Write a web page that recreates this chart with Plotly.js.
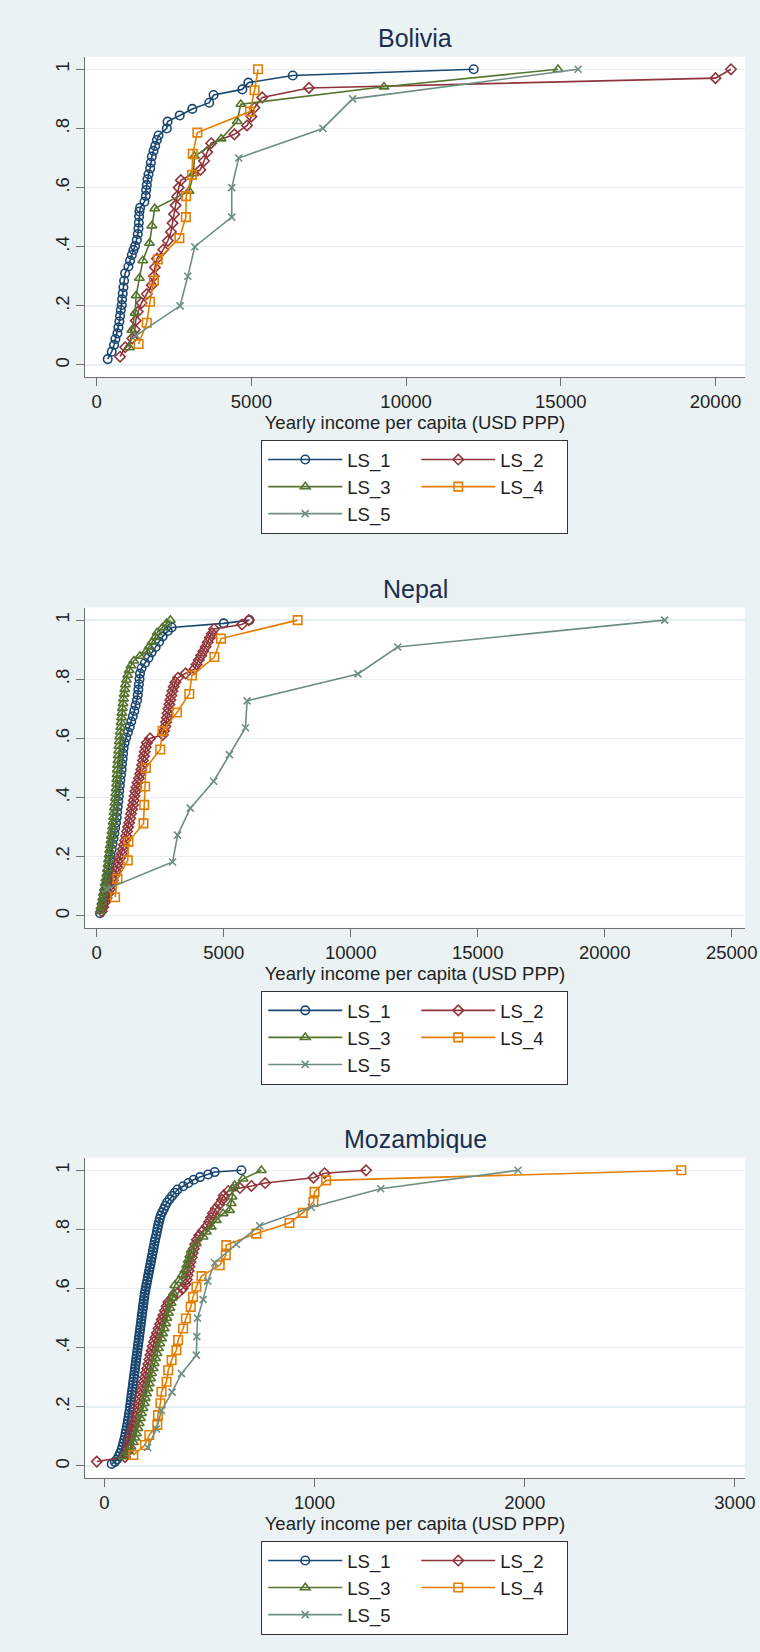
<!DOCTYPE html>
<html><head><meta charset="utf-8">
<script src="https://cdn.plot.ly/plotly-3.0.1.min.js"></script>
<style>html,body{margin:0;padding:0;background:#eaf2f3;}#chart{width:760px;height:1652px;}</style>
</head><body><div id="chart"></div>
<script>
// ---------------- DATA ----------------
const seriesNames = ['LS_1','LS_2','LS_3','LS_4','LS_5'];
const countries = ['Bolivia','Nepal','Mozambique'];
const xAxisTitle = 'Yearly income per capita (USD PPP)';
const yTickVals = [0, 0.2, 0.4, 0.6, 0.8, 1];
const yTickText = ['0', '.2', '.4', '.6', '.8', '1'];
const bolXTicks = [0, 5000, 10000, 15000, 20000];
const nepXTicks = [0, 5000, 10000, 15000, 20000, 25000];
const mozXTicks = [0, 1000, 2000, 3000];

// Bolivia
const bol_ls1_x = [356,486,562,605,670,702,734,756,778,810,821,842,864,886,918,1026,1080,1134,1188,1242,1296,1328,1350,1361,1372,1382,1404,1544,1588,1598,1620,1642,1674,1728,1750,1782,1836,1890,1944,1998,2266,2291,2684,3090,3637,3779,4708,4901,6336,12185];
const bol_ls1_y = [.02,.045,.068,.088,.107,.127,.147,.166,.186,.203,.222,.242,.263,.285,.31,.333,.353,.372,.389,.402,.423,.443,.462,.481,.502,.519,.532,.552,.572,.592,.609,.628,.645,.665,.684,.705,.724,.741,.761,.776,.80,.823,.844,.866,.887,.913,.932,.955,.979,1.0];
const bol_ls2_x = [756,920,1150,1230,1260,1330,1450,1620,1780,1850,1880,1950,2150,2300,2400,2450,2500,2550,2600,2650,2720,3350,3470,3570,3700,4450,4860,5000,5100,5350,6860,20000,20500];
const bol_ls2_y = [.028,.06,.09,.12,.15,.18,.21,.24,.27,.30,.33,.36,.39,.42,.45,.48,.51,.54,.57,.60,.625,.66,.69,.72,.75,.78,.81,.84,.87,.905,.937,.97,1.0];
const bol_ls3_x = [1058,1134,1242,1274,1382,1490,1706,1782,1875,2985,3130,3160,4023,4540,4658,9286,14910];
const bol_ls3_y = [.059,.118,.176,.235,.294,.353,.412,.471,.529,.588,.647,.706,.765,.824,.882,.941,1.0];
const bol_ls4_x = [1355,1618,1722,1850,1976,2673,2882,2892,3078,3105,3254,4950,5103,5215];
const bol_ls4_y = [.071,.143,.214,.286,.357,.429,.5,.571,.643,.714,.786,.857,.929,1.0];
const bol_ls5_x = [1280,2695,2945,3170,4365,4365,4590,7310,8270,15560];
const bol_ls5_y = [.1,.2,.3,.4,.5,.6,.7,.8,.9,1.0];

// Nepal
const nep_ls1_x = [132,200,250,290,330,375,405,440,460,490,520,545,592,620,660,697,725,760,785,805,825,850,870,885,910,930,955,980,995,1020,1040,1060,1100,1160,1230,1300,1360,1420,1480,1530,1585,1615,1640,1660,1685,1705,1765,1900,2040,2160,2320,2460,2600,2800,2950,5000,6010];
const nep_ls1_y = [.009,.027,.045,.063,.081,.099,.117,.135,.153,.171,.189,.207,.225,.243,.261,.279,.297,.315,.333,.351,.369,.387,.405,.423,.441,.459,.477,.495,.513,.531,.549,.567,.585,.603,.621,.639,.657,.675,.693,.711,.729,.747,.765,.783,.801,.819,.837,.855,.873,.891,.909,.927,.945,.963,.975,.989,1.0];
const nep_ls2_x = [197,260,320,390,455,520,570,630,690,750,800,860,920,985,1030,1075,1120,1160,1195,1235,1280,1320,1350,1390,1430,1460,1490,1525,1565,1605,1660,1710,1755,1790,1820,1860,1890,1930,1975,2100,2600,2650,2700,2730,2760,2790,2820,2860,2900,2940,2980,3030,3100,3200,3500,3850,3930,4020,4110,4200,4290,4370,4450,4540,4620,5720,5990];
const nep_ls2_y = [.015,.03,.045,.06,.075,.09,.105,.12,.135,.15,.165,.18,.195,.21,.225,.24,.255,.27,.285,.3,.315,.33,.345,.36,.375,.39,.405,.42,.435,.45,.465,.48,.495,.51,.525,.54,.555,.57,.585,.6,.612,.625,.64,.655,.67,.685,.7,.715,.73,.745,.76,.775,.79,.805,.82,.835,.85,.865,.88,.895,.91,.925,.94,.955,.97,.985,1.0];
const nep_ls3_x = [132,165,200,230,263,296,329,360,395,420,440,461,490,510,530,560,580,600,625,645,665,680,697,715,735,750,765,780,790,800,810,820,835,850,862,875,890,905,925,945,960,975,990,1010,1035,1055,1080,1105,1130,1170,1220,1280,1350,1460,1700,1950,2060,2180,2300,2380,2580,2750,2900];
const nep_ls3_y = [.015,.03,.046,.061,.077,.093,.11,.126,.142,.158,.174,.19,.206,.222,.238,.254,.27,.286,.302,.318,.334,.35,.366,.382,.398,.414,.43,.446,.462,.478,.494,.51,.526,.542,.558,.574,.59,.606,.622,.638,.654,.67,.686,.702,.718,.734,.75,.766,.782,.798,.814,.83,.846,.862,.878,.894,.91,.926,.942,.958,.974,.989,1.0];
const nep_ls4_x = [724,816,1224,1250,1842,1869,1908,1935,2500,2593,3158,3645,3750,4632,4895,7911];
const nep_ls4_y = [.0625,.125,.1875,.25,.3125,.375,.4375,.5,.5625,.625,.6875,.75,.8125,.875,.9375,1.0];
const nep_ls5_x = [395,2987,3185,3685,4606,5225,5856,5922,10284,11849,22362];
const nep_ls5_y = [.091,.182,.273,.364,.455,.545,.636,.727,.818,.909,1.0];

// Mozambique
const moz_ls1_x = [35,50,60,68,75,82,86,90,94,98,101,104,107,110,112,115,117,120,122,124,126,128,130,132,134,136,138,140,142,144,146,148,150,152,154,156,158,160,162,164,166,168,170,172,174,176,178,180,182,184,186,188,190,192,195,198,201,204,207,210,213,216,219,222,225,228,231,234,237,240,243,247,250,253,256,260,264,268,275,283,290,298,310,322,335,348,375,400,425,455,494,525,652];
const moz_ls1_y = [.007,.014,.022,.033,.044,.055,.066,.077,.088,.099,.11,.121,.132,.143,.154,.165,.176,.187,.198,.209,.22,.231,.242,.253,.264,.275,.286,.297,.308,.319,.33,.341,.352,.363,.374,.385,.396,.407,.418,.429,.44,.451,.462,.473,.484,.495,.506,.517,.528,.539,.55,.561,.572,.583,.594,.605,.616,.627,.638,.649,.66,.671,.682,.693,.704,.715,.726,.737,.748,.759,.77,.781,.792,.803,.814,.825,.836,.847,.858,.869,.88,.891,.902,.913,.924,.935,.946,.957,.968,.977,.986,.994,1.0];
const moz_ls2_x = [-36,98,106,112,117,122,127,132,138,144,149,154,159,163,167,172,177,182,187,193,198,204,209,214,219,225,230,236,243,250,258,265,273,281,288,296,305,325,350,372,386,392,396,401,405,410,416,420,426,432,440,452,468,487,498,508,517,530,548,560,568,590,645,700,765,995,1048,1245];
const moz_ls2_y = [.015,.03,.045,.06,.075,.09,.105,.12,.135,.15,.165,.18,.195,.21,.225,.24,.255,.27,.285,.3,.315,.33,.345,.36,.375,.39,.405,.42,.435,.45,.465,.48,.495,.51,.525,.54,.555,.57,.585,.6,.615,.63,.645,.66,.675,.69,.705,.72,.735,.75,.765,.78,.795,.81,.825,.84,.855,.87,.885,.9,.915,.93,.94,.947,.957,.975,.99,1.0];
const moz_ls3_x = [90,115,127,138,146,153,160,166,172,177,184,190,195,201,208,214,220,225,232,237,244,251,258,264,272,278,285,292,298,305,312,318,323,328,335,355,370,383,392,399,406,414,438,470,486,509,533,565,596,604,608,612,620,660,747];
const moz_ls3_y = [.032,.05,.065,.08,.095,.11,.127,.144,.161,.178,.195,.212,.229,.245,.262,.279,.296,.313,.33,.347,.364,.381,.398,.414,.431,.448,.465,.482,.5,.517,.534,.551,.568,.585,.611,.628,.645,.662,.679,.696,.713,.73,.752,.775,.792,.809,.831,.854,.865,.888,.91,.938,.949,.971,1.0];
const moz_ls4_x = [138,193,214,252,255,267,272,296,304,320,343,351,375,388,411,422,438,462,549,578,580,723,881,944,995,1000,1055,2745];
const moz_ls4_y = [.037,.071,.105,.139,.172,.212,.251,.285,.324,.358,.392,.426,.465,.499,.538,.572,.606,.642,.679,.713,.747,.786,.822,.856,.893,.927,.966,1.0];
const moz_ls5_x = [206,248,272,322,367,438,440,443,470,492,525,628,739,984,1315,1968];
const moz_ls5_y = [.0625,.125,.1875,.25,.3125,.375,.4375,.5,.5625,.625,.6875,.75,.8125,.875,.9375,1.0];

// ---------------- STYLE ----------------
const FONT = 'Liberation Sans, Arial, Helvetica, sans-serif';
const W = 760, H = 1652;
const colors = ['#1a476f', '#90353b', '#55752f', '#e37e00', '#6e8e84'];
const symbols = ['circle-open', 'diamond-open', 'triangle-up-open', 'square-open', 'x-thin-open'];
const msizes = [8.5, 8, 8.5, 8.5, 7];
const groupsOf = ['a', 'b', 'a', 'b', 'a'];

const panelData = [
  [[bol_ls1_x,bol_ls1_y],[bol_ls2_x,bol_ls2_y],[bol_ls3_x,bol_ls3_y],[bol_ls4_x,bol_ls4_y],[bol_ls5_x,bol_ls5_y]],
  [[nep_ls1_x,nep_ls1_y],[nep_ls2_x,nep_ls2_y],[nep_ls3_x,nep_ls3_y],[nep_ls4_x,nep_ls4_y],[nep_ls5_x,nep_ls5_y]],
  [[moz_ls1_x,moz_ls1_y],[moz_ls2_x,moz_ls2_y],[moz_ls3_x,moz_ls3_y],[moz_ls4_x,moz_ls4_y],[moz_ls5_x,moz_ls5_y]]
];
const xTicksList = [bolXTicks, nepXTicks, mozXTicks];
const xRanges = [[-378, 20954], [-461, 25524], [-92, 3048]];
const yRange = [-0.0406, 1.0426];
const offsets = [0, 550.8, 1101];
const plotLeft = 85, plotRight = 745, plotTop = 56.7, plotBottom = 377;

const traces = [];
const layout = {
  width: W, height: H,
  margin: {l: 0, r: 0, t: 0, b: 0, pad: 0},
  paper_bgcolor: '#eaf2f3', plot_bgcolor: '#ffffff',
  font: {family: FONT, size: 18.5, color: '#222'},
  annotations: [],
  showlegend: true
};

for (let p = 0; p < 3; p++) {
  const sfx = p === 0 ? '' : String(p + 1);
  const off = offsets[p];
  const top = plotTop + off, bot = plotBottom + off;
  const legName = 'legend' + sfx;
  for (let s = 0; s < 5; s++) {
    traces.push({
      type: 'scatter', mode: 'lines+markers', name: seriesNames[s],
      x: panelData[p][s][0], y: panelData[p][s][1],
      xaxis: 'x' + sfx, yaxis: 'y' + sfx,
      legend: legName, legendgroup: groupsOf[s] + p,
      line: {color: colors[s], width: 1.6},
      marker: {symbol: symbols[s], size: msizes[s], color: colors[s], line: {color: colors[s], width: 1.6}},
      hoverinfo: 'x+y'
    });
  }
  layout['xaxis' + sfx] = {
    domain: [plotLeft / W, plotRight / W], anchor: 'y' + sfx,
    range: xRanges[p], tickvals: xTicksList[p], ticktext: xTicksList[p].map(String),
    ticks: 'outside', ticklen: 8, tickwidth: 1, tickcolor: '#6e6e6e',
    showline: true, linecolor: '#6e6e6e', linewidth: 1, mirror: false,
    showgrid: false, zeroline: false,
    tickfont: {family: FONT, size: 18.5, color: '#222'},
    title: {text: xAxisTitle, font: {family: FONT, size: 18.5, color: '#222'}, standoff: 0}
  };
  layout['yaxis' + sfx] = {
    domain: [1 - bot / H, 1 - top / H], anchor: 'x' + sfx,
    range: yRange, tickvals: yTickVals, ticktext: yTickText, tickangle: -90,
    ticks: 'outside', ticklen: 8, tickwidth: 1, tickcolor: '#6e6e6e',
    showline: true, linecolor: '#6e6e6e', linewidth: 1,
    showgrid: true, gridcolor: '#e6eff1', gridwidth: 1.3, zeroline: false,
    tickfont: {family: FONT, size: 18.5, color: '#222'}
  };
  layout[legName] = {
    x: 414.75 / W, xanchor: 'center', y: 1 - (440 + off) / H, yanchor: 'top',
    orientation: 'h', traceorder: 'grouped', tracegroupgap: 0,
    bgcolor: '#ffffff', bordercolor: '#333333', borderwidth: 1,
    font: {family: FONT, size: 18.5, color: '#222'},
    itemwidth: 74, indentation: 2, entrywidth: 62, entrywidthmode: 'pixels'
  };
  layout.annotations.push({
    xref: 'paper', yref: 'paper', x: 415 / W, y: 1 - (38 + off) / H,
    xanchor: 'center', yanchor: 'middle', showarrow: false,
    text: countries[p], font: {family: FONT, size: 25, color: '#1c2d4f'}
  });
}

Plotly.newPlot('chart', traces, layout, {displayModeBar: false, staticPlot: true});
</script>
</body></html>
